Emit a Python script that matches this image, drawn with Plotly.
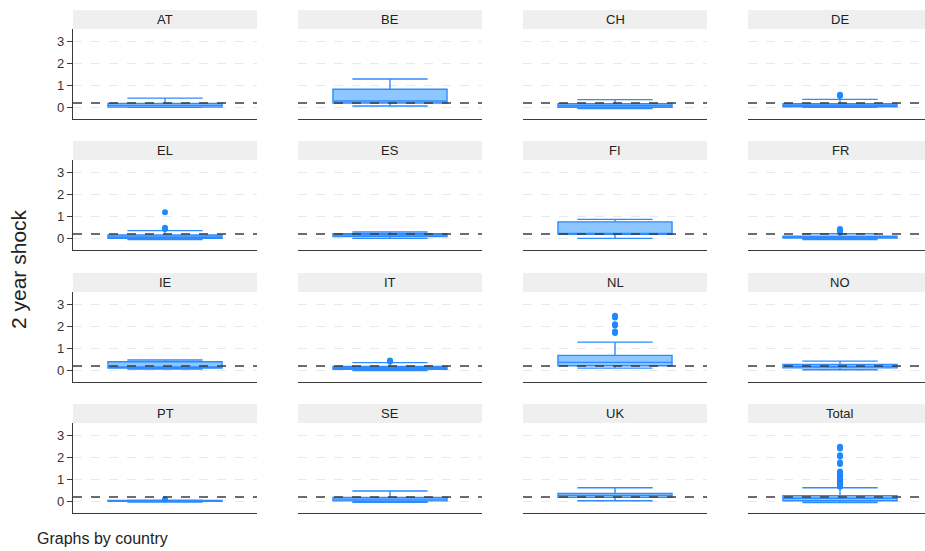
import plotly.graph_objects as go

countries = ["AT", "BE", "CH", "DE", "EL", "ES", "FI", "FR",
             "IE", "IT", "NL", "NO", "PT", "SE", "UK", "Total"]
q1 = [0.01, 0.20, 0.00, 0.03, 0.00, 0.08, 0.18, 0.01,
      0.10, 0.05, 0.21, 0.11, 0.00, 0.02, 0.18, 0.03]
median = [0.09, 0.29, 0.07, 0.09, 0.06, 0.15, 0.20, 0.05,
          0.15, 0.12, 0.36, 0.18, 0.02, 0.10, 0.27, 0.14]
q3 = [0.18, 0.82, 0.16, 0.16, 0.15, 0.21, 0.75, 0.10,
      0.39, 0.18, 0.68, 0.27, 0.04, 0.18, 0.36, 0.26]
lower_whisker = [0.00, 0.06, -0.05, 0.00, -0.05, 0.00, 0.00, -0.05,
                 0.06, -0.01, 0.10, 0.03, -0.03, -0.04, 0.03, -0.05]
upper_whisker = [0.42, 1.29, 0.35, 0.36, 0.35, 0.29, 0.86, 0.21,
                 0.47, 0.35, 1.28, 0.42, 0.05, 0.47, 0.62, 0.62]
outliers = {
    "DE": [0.52, 0.57],
    "EL": [1.18, 0.48, 0.42],
    "FR": [0.42, 0.36, 0.30, 0.27],
    "IT": [0.45, 0.40],
    "NL": [2.48, 2.40, 2.10, 2.04, 1.76, 1.70],
    "PT": [0.10],
    "Total": [2.48, 2.40, 2.10, 2.04, 1.76, 1.70, 1.36, 1.30, 1.25, 1.20,
              1.18, 1.10, 1.05, 1.00, 0.95, 0.90, 0.86, 0.82, 0.78, 0.75,
              0.72, 0.70, 0.68, 0.66],
}
reference_value = 0.2
y_ticks = [0, 1, 2, 3]

W, H = 925, 551
col_left = [73, 298, 523, 748]
panel_w = 184
row_top = [10, 141, 273, 404]
strip_h = 19
plot_h = 90

FONT = "Liberation Sans, Arial, Helvetica, sans-serif"
LINE = "#2e8bff"
FILL = "rgba(30,144,255,0.5)"

fig = go.Figure()
layout = dict(
    width=W, height=H, margin=dict(l=0, r=0, t=0, b=0),
    paper_bgcolor="white", plot_bgcolor="white", showlegend=False,
    font=dict(family=FONT, color="#333333", size=12),
)
shapes, annotations = [], []

for i, c in enumerate(countries):
    r, k = divmod(i, 4)
    n = i + 1
    xa = "x" if n == 1 else f"x{n}"
    ya = "y" if n == 1 else f"y{n}"
    x0 = col_left[k]
    x1 = min(x0 + panel_w, W)
    xr_hi = -0.5 + (x1 - x0) / panel_w
    ptop = row_top[r] + strip_h
    pbot = ptop + plot_h
    layout["xaxis" if n == 1 else f"xaxis{n}"] = dict(
        domain=[x0 / W, x1 / W], range=[-0.5, xr_hi], anchor=ya,
        showticklabels=False, showgrid=False, zeroline=False, ticks="",
        showline=True, linecolor="#3a3a3a", linewidth=1.3, fixedrange=True,
    )
    layout["yaxis" if n == 1 else f"yaxis{n}"] = dict(
        domain=[1 - pbot / H, 1 - ptop / H], range=[-0.53, 3.56], anchor=xa,
        tickvals=y_ticks, showgrid=True, gridcolor="#e9e9e9", griddash="dash",
        gridwidth=1, zeroline=False,
        showticklabels=(k == 0), ticks="outside" if k == 0 else "",
        ticklen=5, tickcolor="#3a3a3a", tickwidth=1,
        showline=(k == 0), linecolor="#3a3a3a", linewidth=1.3,
        tickfont=dict(size=13, color="#333333"), fixedrange=True,
    )
    fig.add_trace(go.Box(
        x=[0], q1=[q1[i]], median=[median[i]], q3=[q3[i]],
        lowerfence=[lower_whisker[i]], upperfence=[upper_whisker[i]],
        width=0.62, whiskerwidth=0.66, boxpoints=False,
        line=dict(color=LINE, width=1.4), fillcolor=FILL,
        xaxis=xa, yaxis=ya, hoverinfo="skip",
    ))
    if c in outliers:
        fig.add_trace(go.Scatter(
            x=[0] * len(outliers[c]), y=outliers[c], mode="markers",
            marker=dict(color="#1e88ff", size=6), xaxis=xa, yaxis=ya,
            hoverinfo="skip",
        ))
    shapes.append(dict(
        type="line", xref=f"{xa} domain", yref=ya, x0=0, x1=1,
        y0=reference_value, y1=reference_value, layer="above",
        line=dict(color="#3c3c3c", width=1.5, dash="dash"),
    ))
    shapes.append(dict(
        type="rect", xref="paper", yref="paper",
        x0=x0 / W, x1=x1 / W, y0=1 - ptop / H, y1=1 - row_top[r] / H,
        fillcolor="#efefef", line=dict(width=0), layer="below",
    ))
    annotations.append(dict(
        text=c, xref="paper", yref="paper",
        x=(x0 + panel_w / 2) / W, y=1 - (row_top[r] + strip_h / 2) / H,
        showarrow=False, xanchor="center", yanchor="middle",
        font=dict(size=13, color="#222222", family=FONT),
    ))

annotations.append(dict(
    text="2 year shock", xref="paper", yref="paper", x=18 / W, y=1 - 269 / H,
    textangle=-90, showarrow=False, xanchor="center", yanchor="middle",
    font=dict(size=21, color="#222222", family=FONT),
))
annotations.append(dict(
    text="Graphs by country", xref="paper", yref="paper", x=35 / W, y=1 - 538 / H,
    showarrow=False, xanchor="left", yanchor="middle",
    font=dict(size=16, color="#222222", family=FONT),
))
layout["shapes"] = shapes
layout["annotations"] = annotations
fig.update_layout(**layout)
fig.write_html(
    "out.html", config={"displayModeBar": False},
    post_script="document.body.style.margin='0px';document.body.style.overflow='hidden';",
)
